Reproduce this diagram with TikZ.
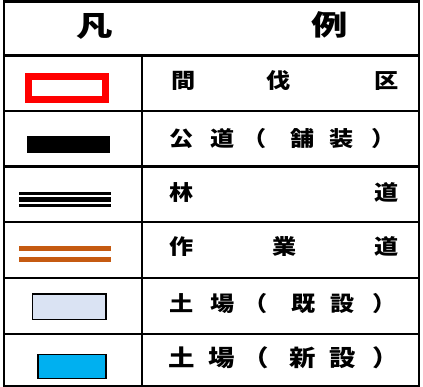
\documentclass[tikz,border=0pt]{standalone}
\usepackage{fontspec}
\usepackage{graphicx}
\newfontfamily\jp{Noto Sans CJK JP}
\definecolor{redbox}{HTML}{FF0000}
\definecolor{roadorange}{HTML}{C55A11}
\definecolor{lightblue}{HTML}{DAE3F3}
\definecolor{newblue}{HTML}{00B0F0}
\newcommand\sx[1]{\scalebox{1.15}[1]{#1}}
\newcommand\sxh[1]{\scalebox{1.3}[1]{#1}}
% place a character centred at an absolute x position (pt)
\newcommand\chat[2]{\rlap{\kern#1pt\makebox[0pt][c]{\sx{#2}}}}
\begin{document}
\begin{tikzpicture}[x=1pt,y=-1pt,
  frame/.style={line width=2.6pt},
  gridline/.style={line width=2.4pt},
  hdr/.style={inner sep=0pt, font=\jp\bfseries\fontsize{28}{28}\selectfont},
  lbl/.style={inner sep=0pt, anchor=west, font=\jp\bfseries\fontsize{21}{21}\selectfont},
  lblbig/.style={inner sep=0pt, anchor=west, font=\jp\bfseries\fontsize{23}{23}\selectfont}]
\useasboundingbox (0,0) rectangle (423,387);
% table grid
\draw[frame] (4,1.5) rectangle (419,386);
\foreach \yy in {55.5,111,166.5,222,278,334}
  \draw[gridline] (4,\yy) -- (419,\yy);
\draw[gridline] (142,55.5) -- (142,386);
% header
\node[hdr] (h1) at (95,26) {\sxh{凡}};
\node[hdr] (h2) at (330,25) {\sxh{例}};
% symbols
\draw[redbox, line width=7pt] (28,76.5) rectangle (105.5,99.5);
\fill (27,136) rectangle (110,153);
\draw[line width=2.6pt] (19,193.5) -- (111,193.5);
\draw[line width=5pt] (19,199.5) -- (111,199.5);
\draw[line width=2.6pt] (19,205.5) -- (111,205.5);
\draw[roadorange, line width=5pt] (19,248.5) -- (111,248.5);
\draw[roadorange, line width=5pt] (19,259.2) -- (111,259.2);
\draw[fill=lightblue, line width=1.2pt] (32.5,294) rectangle (106,319.5);
\draw[fill=newblue, line width=1.2pt] (38,354.5) rectangle (106,378.5);
% labels (characters centred at measured x positions)
\node[lbl] (r1) at (0,81) {\chat{182.5}{間}\chat{278}{伐}\chat{386}{区}};
\node[lbl] (r2) at (0,139) {\chat{181}{公}\chat{222}{道}\chat{254}{（}\chat{302}{舗}\chat{341}{装}\chat{383}{）}};
\node[lbl] (r3) at (0,193) {\chat{181}{林}\chat{386}{道}};
\node[lbl] (r4) at (0,247) {\chat{181}{作}\chat{284}{業}\chat{386}{道}};
\node[lbl] (r5) at (0,304) {\chat{181}{土}\chat{222}{場}\chat{255}{（}\chat{303}{既}\chat{342}{設}\chat{384}{）}};
\node[lblbig] (r6) at (0,358) {\chat{181.5}{土}\chat{221}{場}\chat{255}{（}\chat{302.5}{新}\chat{342}{設}\chat{385}{）}};
\end{tikzpicture}
\end{document}
